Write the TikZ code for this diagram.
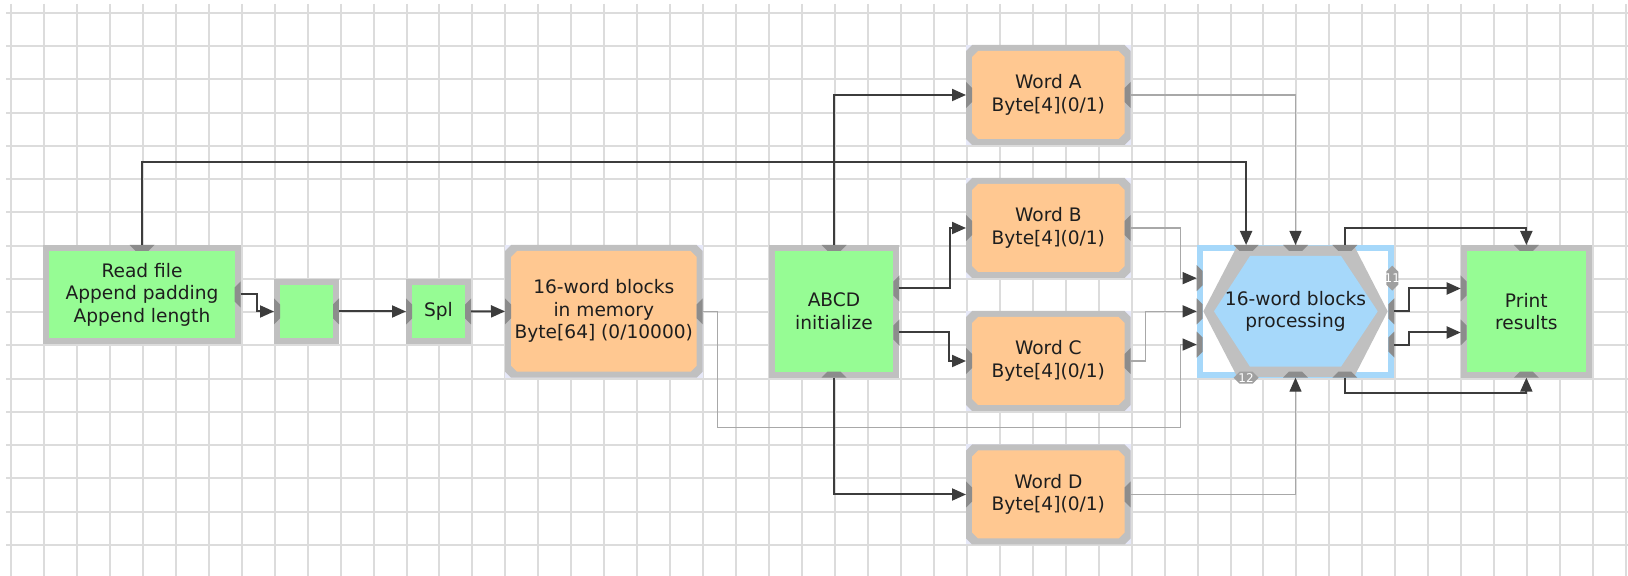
\documentclass[tikz,border=0pt]{standalone}
\usepackage{fontspec}
\setmainfont{DejaVu Sans}
\usetikzlibrary{arrows.meta,calc}
\definecolor{gridc}{HTML}{DCDCDC}
\definecolor{bordc}{HTML}{C0C0C0}
\definecolor{portc}{HTML}{8C8C8C}
\definecolor{greenc}{HTML}{96FC94}
\definecolor{orangec}{HTML}{FFC891}
\definecolor{lavc}{HTML}{E6E8F8}
\definecolor{bluec}{HTML}{A6D8FA}
\definecolor{darkc}{HTML}{3C3C3C}
\definecolor{lightc}{HTML}{A8A8A8}
\definecolor{textc}{HTML}{1E1E1E}
\definecolor{labc}{HTML}{A0A0A0}

\tikzset{
  shp/.style={draw=none, inner sep=0pt, outer sep=0pt, rectangle},
  txt/.style={draw=none, inner sep=0pt, align=center, text=textc,
    font=\fontsize{9.3pt}{11.25pt}\selectfont},
  labtxt/.style={draw=none, inner sep=0pt, text=white,
    font=\fontsize{6pt}{6pt}\selectfont},
  gridl/.style={draw=gridc, line width=1pt},
  tipdk/.style={-{Triangle[length=7pt,width=6pt,color=darkc,fill=darkc]}},
  dk/.style={draw=darkc, line width=1pt, tipdk},
  lt/.style={draw=lightc, line width=0.6pt, tipdk},
}

\newcommand{\greenblock}[6]{%
  \node[shp, minimum width=#4*0.5pt, minimum height=#5*0.5pt, fill=bordc] (#1) at (#2,#3) {};
  \fill[greenc] ($(#1.north west)+(6,6)$) rectangle ($(#1.south east)+(-6,-6)$);
  \node[txt] (#1-t) at (#1.center) {#6};
}
\newcommand{\orangeblock}[6]{%
  \node[shp, minimum width=#4*0.5pt, minimum height=#5*0.5pt, fill=lavc] (#1) at (#2,#3) {};
  \fill[bordc] ($(#1.north west)+(6,0)$) -- ($(#1.north east)+(-6,0)$) -- ($(#1.north east)+(0,6)$)
     -- ($(#1.south east)+(0,-6)$) -- ($(#1.south east)+(-6,0)$) -- ($(#1.south west)+(6,0)$)
     -- ($(#1.south west)+(0,-6)$) -- ($(#1.north west)+(0,6)$) -- cycle;
  \fill[orangec] ($(#1.north west)+(12,6)$) -- ($(#1.north east)+(-12,6)$) -- ($(#1.north east)+(-6,12)$)
     -- ($(#1.south east)+(-6,-12)$) -- ($(#1.south east)+(-12,-6)$) -- ($(#1.south west)+(12,-6)$)
     -- ($(#1.south west)+(6,-12)$) -- ($(#1.north west)+(6,12)$) -- cycle;
  \node[txt] (#1-t) at (#1.center) {#6};
}
% ports: outer edge at the given point
\newcommand{\portE}[1]{\fill[portc] ($(#1)+(0,-13)$) -- ($(#1)+(0,13)$) -- ($(#1)+(-6,7)$) -- ($(#1)+(-6,-7)$) -- cycle;}
\newcommand{\portW}[1]{\fill[portc] ($(#1)+(0,-13)$) -- ($(#1)+(0,13)$) -- ($(#1)+(6,7)$) -- ($(#1)+(6,-7)$) -- cycle;}
\newcommand{\portN}[1]{\fill[portc] ($(#1)+(-12.5,0)$) -- ($(#1)+(12.5,0)$) -- ($(#1)+(6.5,6)$) -- ($(#1)+(-6.5,6)$) -- cycle;}
\newcommand{\portS}[1]{\fill[portc] ($(#1)+(-12.5,0)$) -- ($(#1)+(12.5,0)$) -- ($(#1)+(6.5,-6)$) -- ($(#1)+(-6.5,-6)$) -- cycle;}

\begin{document}
\begin{tikzpicture}[x=0.5pt,y=-0.5pt]
\useasboundingbox (0,0) rectangle (1628,576);
\fill[white] (0,0) rectangle (1628,576);

% grid
\foreach \k in {0,...,49} \draw[gridl] ({11+32.96*\k},4) -- ({11+32.96*\k},576);
\foreach \j in {0,...,16} \draw[gridl] (6,{12.7+33.27*\j}) -- (1628,{12.7+33.27*\j});

% blocks
\greenblock{rf}{142}{294.5}{197.4}{99}{Read file\\Append padding\\Append length}
\greenblock{sb}{306.5}{311.5}{65}{65}{}
\greenblock{spl}{438.5}{311.5}{65}{65}{Spl}
\orangeblock{mem}{603.85}{311.35}{197.7}{132.7}{16-word blocks\\in memory\\Byte[64] (0/10000)}
\greenblock{abcd}{834}{311.35}{130.6}{132.7}{ABCD\\initialize}
\orangeblock{wa}{1048.35}{95}{164.7}{100}{Word A\\Byte[4](0/1)}
\orangeblock{wb}{1048.35}{228}{164.7}{100}{Word B\\Byte[4](0/1)}
\orangeblock{wc}{1048.35}{361}{164.7}{100}{Word C\\Byte[4](0/1)}
\orangeblock{wd}{1048.35}{494.5}{164.7}{100}{Word D\\Byte[4](0/1)}
\greenblock{pr}{1526.35}{311.35}{131.3}{132.7}{Print\\results}

% hexagon block
\node[shp, minimum width=197.6*0.5pt, minimum height=132.7*0.5pt, fill=bluec] (hex) at (1295.5,311.35) {};
\fill[white] ($(hex.north west)+(6,6)$) rectangle ($(hex.south east)+(-6,-6)$);
\fill[bordc] ($(hex.west)+(6.6,0)$) -- ($(hex.north west)+(40.6,0.7)$) -- ($(hex.north east)+(-40.3,0.7)$)
   -- ($(hex.east)+(-6.6,0)$) -- ($(hex.south east)+(-40.3,-0.7)$) -- ($(hex.south west)+(40.6,-0.7)$) -- cycle;
\fill[bluec] ($(hex.west)+(17.3,0)$) -- ($(hex.north west)+(53.3,11)$) -- ($(hex.north east)+(-53.3,11)$)
   -- ($(hex.east)+(-16.6,0)$) -- ($(hex.south east)+(-53.3,-11)$) -- ($(hex.south west)+(53.3,-11)$) -- cycle;
\node[txt] (hex-t) at (hex.center) {16-word blocks\\processing};

% named port coordinates
\coordinate (abcdr1) at ($(abcd.east)+(0,-22.85)$);
\coordinate (abcdr2) at ($(abcd.east)+(0,21.15)$);
\coordinate (prl1) at ($(pr.west)+(0,-22.85)$);
\coordinate (prl2) at ($(pr.west)+(0,21.15)$);
\coordinate (hxt1) at ($(hex.north)+(-49.4,0)$);
\coordinate (hxt2) at (hex.north);
\coordinate (hxt3) at ($(hex.north)+(49.4,0)$);
\coordinate (hxb1) at ($(hex.south)+(-49.4,0)$);
\coordinate (hxb2) at (hex.south);
\coordinate (hxb3) at ($(hex.south)+(49.4,0)$);
\coordinate (hxl1) at ($(hex.west)+(0,-33.2)$);
\coordinate (hxl2) at (hex.west);
\coordinate (hxl3) at ($(hex.west)+(0,33.2)$);
\coordinate (hxr1) at ($(hex.east)+(-2,-33.2)$);
\coordinate (hxr2) at (hex.east);
\coordinate (hxr3) at ($(hex.east)+(0,33.2)$);

% ports
\portN{rf.north} \portE{rf.east}
\portW{sb.west} \portE{sb.east}
\portW{spl.west} \portE{spl.east}
\portW{mem.west} \portE{mem.east}
\portN{abcd.north} \portS{abcd.south} \portE{abcdr1} \portE{abcdr2}
\portW{wa.west} \portE{wa.east}
\portW{wb.west} \portE{wb.east}
\portW{wc.west} \portE{wc.east}
\portW{wd.west} \portE{wd.east}
\portN{hxt1} \portN{hxt2} \portN{hxt3}
\portS{hxb2} \portS{hxb3}
\portW{hxl1} \portW{hxl2} \portW{hxl3}
\portE{hxr2} \portE{hxr3}
\portN{pr.north} \portS{pr.south} \portW{prl1} \portW{prl2}

% labelled ports
\fill[labc] ($(hxb1)+(-12.5,0)$) -- ($(hxb1)+(-6.5,-6)$) -- ($(hxb1)+(6.5,-6)$) -- ($(hxb1)+(12.5,0)$) -- ($(hxb1)+(6.5,6)$) -- ($(hxb1)+(-6.5,6)$) -- cycle;
\node[labtxt] (lab12) at (hxb1) {12};
\fill[labc] ($(hxr1)+(0,-12.5)$) -- ($(hxr1)+(6,-6.5)$) -- ($(hxr1)+(6,6.5)$) -- ($(hxr1)+(0,12.5)$) -- ($(hxr1)+(-6,6.5)$) -- ($(hxr1)+(-6,-6.5)$) -- cycle;
\node[labtxt] (lab11) at (hxr1) {11};

% connectors
\draw[dk] (rf.north) -- ++(0,-83.3) -| (hxt1);
\draw[dk] (rf.east) -- ++(16,0) |- (sb.west);
\draw[dk] (sb.east) -- (spl.west);
\draw[dk] (spl.east) -- (mem.west);
\draw[lt] (mem.east) -- ++(14.6,0) -- ++(0,116.4) -| ($(hxl3)+(-16,0)$) -- (hxl3);
\draw[dk] (abcd.north) |- (wa.west);
\draw[dk] (abcdr1) -- ++(51,0) |- (wb.west);
\draw[dk] (abcdr2) -- ++(50,0) |- (wc.west);
\draw[dk] (abcd.south) |- (wd.west);
\draw[lt] (wa.east) -| (hxt2);
\draw[lt] (wb.east) -- ++(50,0) |- (hxl1);
\draw[lt] (wc.east) -- ++(15,0) |- (hxl2);
\draw[lt] (wd.east) -| (hxb2);
\draw[dk] (hxt3) -- ++(0,-16.7) -| (pr.north);
\draw[dk] (hxb3) -- ++(0,15) -| (pr.south);
\draw[dk] (hxr2) -- ++(15,0) |- (prl1);
\draw[dk] (hxr3) -- ++(15,0) |- (prl2);
\end{tikzpicture}
\end{document}
